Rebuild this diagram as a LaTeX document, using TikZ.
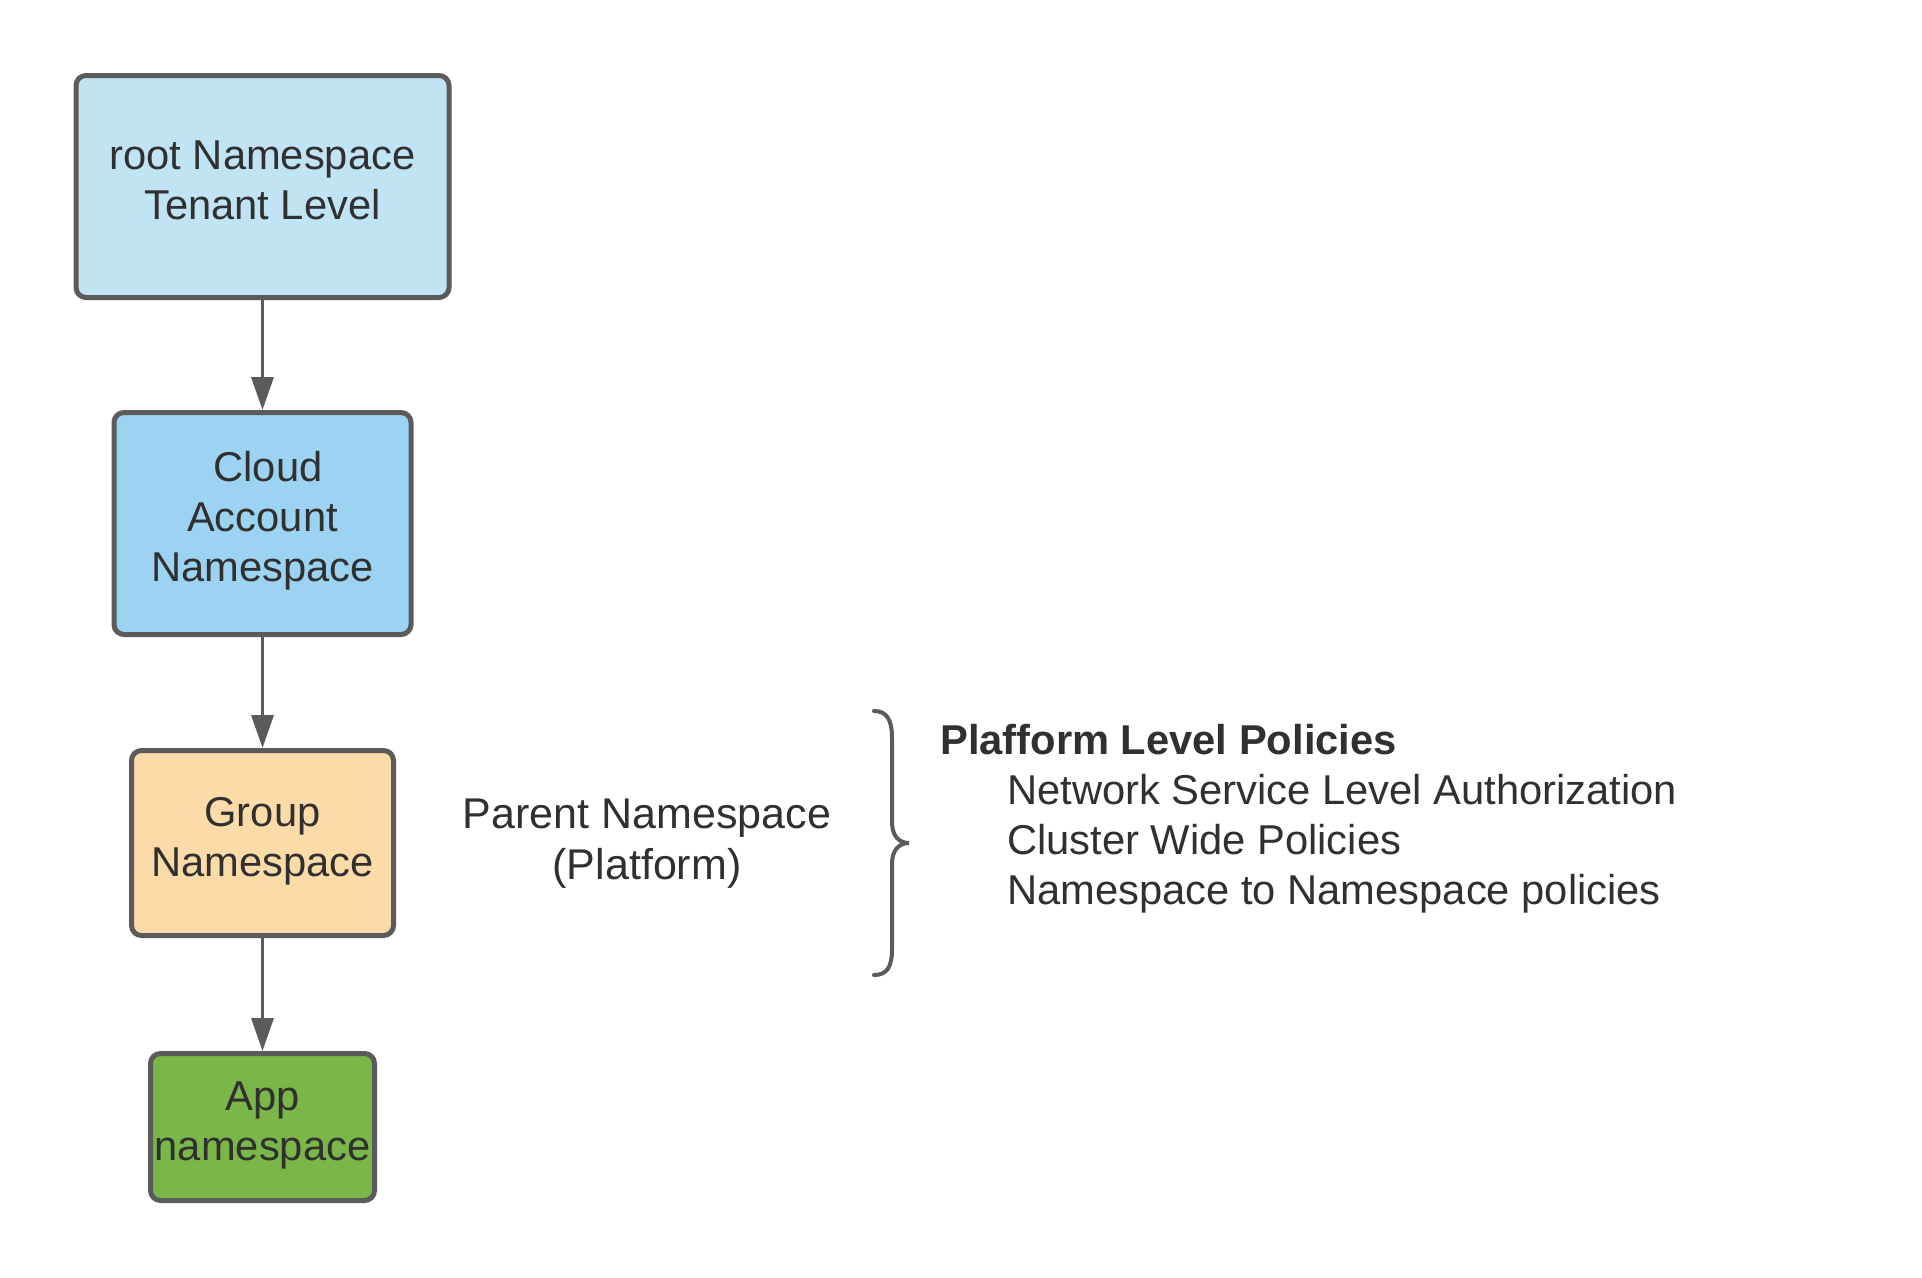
\documentclass[tikz,border=0pt]{standalone}
\usepackage{fontspec}
\setmainfont{Liberation Sans}
\usetikzlibrary{arrows.meta}
\definecolor{edgegray}{HTML}{5B5B5B}
\definecolor{txtgray}{HTML}{303030}
\definecolor{rootfill}{HTML}{C1E4F5}
\definecolor{cloudfill}{HTML}{9CD3F2}
\definecolor{groupfill}{HTML}{FDDBA8}
\definecolor{appfill}{HTML}{7AB648}
\newcommand\topst{\rule{0pt}{34pt}}
\newcommand\botst{\rule[-18pt]{0pt}{18pt}}
\tikzset{
  nsbox/.style={draw=edgegray, line width=5pt, rounded corners=10pt, inner sep=0pt,
    align=center, text=txtgray, font=\fontsize{41.7}{50}\selectfont},
  plain/.style={inner sep=0pt, text=txtgray, font=\fontsize{41.7}{50}\selectfont},
  flowarrow/.style={draw=edgegray, line width=3.5pt, -{Triangle[width=22pt,length=33pt]}},
  bracestyle/.style={draw=edgegray, line width=4pt, line cap=round}
}
\begin{document}
\begin{tikzpicture}[x=1pt,y=-1pt]
\fill[white] (0,0) rectangle (1922,1277);
\useasboundingbox (0,0) rectangle (1922,1277);

\node[nsbox, fill=rootfill, minimum width=373pt, minimum height=222pt] (root) at (262.5,186.5)
  {\topst root Namespace\\Tenant Level\botst};
\node[nsbox, fill=cloudfill, minimum width=297pt, minimum height=222pt] (cloud) at (262.5,523.5)
  {\topst\hspace*{11pt}Cloud\\Account\\Namespace\botst};
\node[nsbox, fill=groupfill, minimum width=262pt, minimum height=185pt] (group) at (262.5,843)
  {\topst Group\\Namespace\botst};
\node[nsbox, fill=appfill, minimum width=224pt, minimum height=147pt] (app) at (262.5,1127)
  {\topst App\\namespace\botst};

\draw[flowarrow] (root.south) -- (cloud.north);
\draw[flowarrow] (cloud.south) -- (group.north);
\draw[flowarrow] (group.south) -- (app.north);

\node[plain, align=center, font=\fontsize{43}{51}\selectfont] (parent) at (647,846)
  {\topst Parent Namespace\\(Platform)\botst};

% brace
\draw[bracestyle] (874,711) .. controls (887,711) and (892,720) .. (892,738)
  -- (892,822) .. controls (892,836) and (899,843) .. (909,843)
  .. controls (899,843) and (892,850) .. (892,864)
  -- (892,949) .. controls (892,967) and (887,975) .. (874,975);

\node[plain, align=left, anchor=north west] (policies) at (940,720)
  {\topst\textbf{Plafform Level Policies}\\
   \hspace*{67pt}Network Service Level Authorization\\
   \hspace*{67pt}Cluster Wide Policies\\
   \hspace*{67pt}Namespace to Namespace policies\botst};
\end{tikzpicture}
\end{document}
